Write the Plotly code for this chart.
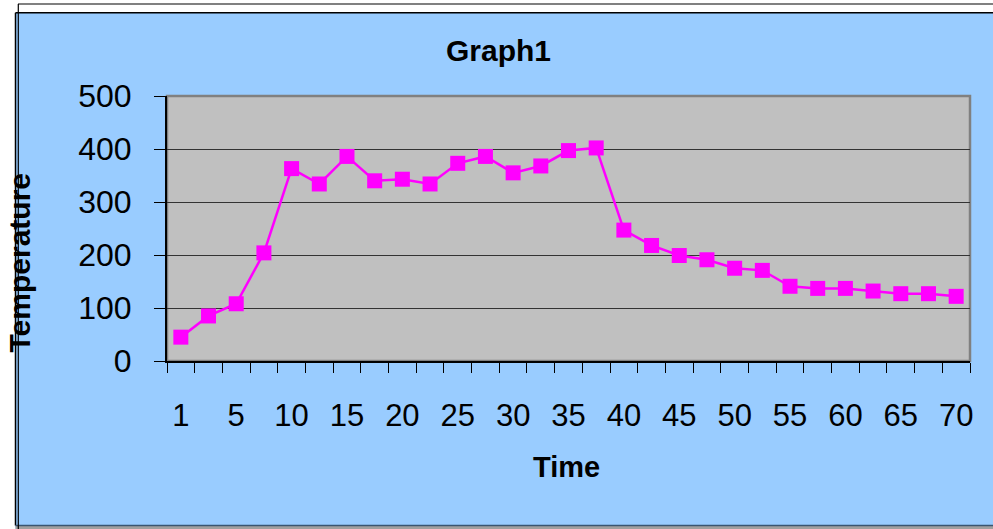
import plotly.graph_objects as go

# ---- data ----
times = ["1", "2.5", "5", "7.5", "10", "12.5", "15", "17.5", "20", "22.5", "25", "27.5",
         "30", "32.5", "35", "37.5", "40", "42.5", "45", "47.5", "50", "52.5", "55",
         "57.5", "60", "62.5", "65", "67.5", "70"]
temperature = [45, 85, 108, 204, 363, 334, 386, 340, 343, 334, 373, 386, 355, 368, 397,
               402, 247, 218, 199, 191, 175, 171, 141, 137, 137, 132, 127, 127, 122]
shown_labels = ["1", "5", "10", "15", "20", "25", "30", "35", "40", "45", "50", "55", "60", "65", "70"]
y_ticks = [0, 100, 200, 300, 400, 500]

W, H = 993, 529
L, R, T, B = 167, 23, 96, 168
PW, PH = W - L - R, H - T - B

def px(x):
    return (x - L) / PW

def py(y):
    return (H - B - y) / PH

idx = list(range(len(times)))
label_pos = [times.index(t) for t in shown_labels]

fig = go.Figure()
fig.add_trace(go.Scatter(
    x=idx, y=temperature, mode="lines+markers",
    line=dict(color="#FF00FF", width=2.5),
    marker=dict(symbol="square", size=15, color="#FF00FF"),
    showlegend=False, hoverinfo="skip",
))

FONT = "Liberation Sans, Arial, sans-serif"

shapes = [
    # white sheet regions outside the chart frame
    dict(type="rect", xref="paper", yref="paper", x0=px(0), x1=px(W), y0=py(0), y1=py(12.7),
         fillcolor="white", line=dict(width=0), layer="below"),
    dict(type="rect", xref="paper", yref="paper", x0=px(0), x1=px(15.5), y0=py(0), y1=py(H),
         fillcolor="white", line=dict(width=0), layer="below"),
    dict(type="rect", xref="paper", yref="paper", x0=px(15.5), x1=px(W), y0=py(526), y1=py(H),
         fillcolor="#A0A0A0", line=dict(width=0), layer="below"),
    # frame lines
    dict(type="line", xref="paper", yref="paper", x0=px(15.5), x1=px(W), y0=py(12.7), y1=py(12.7),
         line=dict(color="black", width=1.5)),
    dict(type="line", xref="paper", yref="paper", x0=px(15.5), x1=px(15.5), y0=py(12.7), y1=py(525.5),
         line=dict(color="black", width=1.5)),
    dict(type="line", xref="paper", yref="paper", x0=px(15.5), x1=px(W), y0=py(525.5), y1=py(525.5),
         line=dict(color="#3A5570", width=1.5)),
    dict(type="line", xref="paper", yref="paper", x0=px(18), x1=px(W), y0=py(4), y1=py(4),
         line=dict(color="#808080", width=2)),
    dict(type="line", xref="paper", yref="paper", x0=px(18.3), x1=px(18.3), y0=py(4), y1=py(H),
         line=dict(color="black", width=1.2)),
    # plot area gray border
    dict(type="rect", xref="paper", yref="paper", x0=0, x1=1, y0=0, y1=1,
         line=dict(color="#808080", width=2.5), fillcolor="rgba(0,0,0,0)", layer="below"),
]

annotations = [
    dict(text="<b>Graph1</b>", xref="paper", yref="paper", x=px(498.5), y=py(50),
         showarrow=False, font=dict(family=FONT, size=30, color="black"),
         xanchor="center", yanchor="middle"),
    dict(text="<b>Time</b>", xref="paper", yref="paper", x=px(566), y=py(467),
         showarrow=False, font=dict(family=FONT, size=29, color="black"),
         xanchor="center", yanchor="middle"),
    dict(text="<b>Temperature</b>", xref="paper", yref="paper", x=px(18.5), y=py(263),
         showarrow=False, textangle=-90, font=dict(family=FONT, size=30, color="black"),
         xanchor="center", yanchor="middle"),
]

fig.update_layout(
    width=W, height=H,
    margin=dict(l=L, r=R, t=T, b=B, pad=0),
    paper_bgcolor="#99CCFF",
    plot_bgcolor="#C0C0C0",
    shapes=shapes,
    annotations=annotations,
    xaxis=dict(
        range=[-0.5, len(times) - 0.5],
        tickmode="array", tickvals=label_pos, ticktext=shown_labels,
        ticks="", showgrid=False, zeroline=False,
        showline=True, linecolor="black", linewidth=2,
        tickfont=dict(family=FONT, size=31, color="black"),
        ticklabelstandoff=26,
        minor=dict(tickmode="array", tickvals=[i - 0.5 for i in range(len(times) + 1)],
                   ticks="outside", ticklen=10, tickcolor="black", tickwidth=1.3, showgrid=False),
    ),
    yaxis=dict(
        range=[0, 500],
        tickmode="array", tickvals=y_ticks,
        ticks="outside", ticklen=11, tickcolor="black", tickwidth=1.3,
        showgrid=True, gridcolor="#333333", gridwidth=1,
        zeroline=False,
        showline=True, linecolor="black", linewidth=2,
        tickfont=dict(family=FONT, size=32, color="black"),
        ticklabelstandoff=16,
    ),
)

fig.write_html("out.html")
